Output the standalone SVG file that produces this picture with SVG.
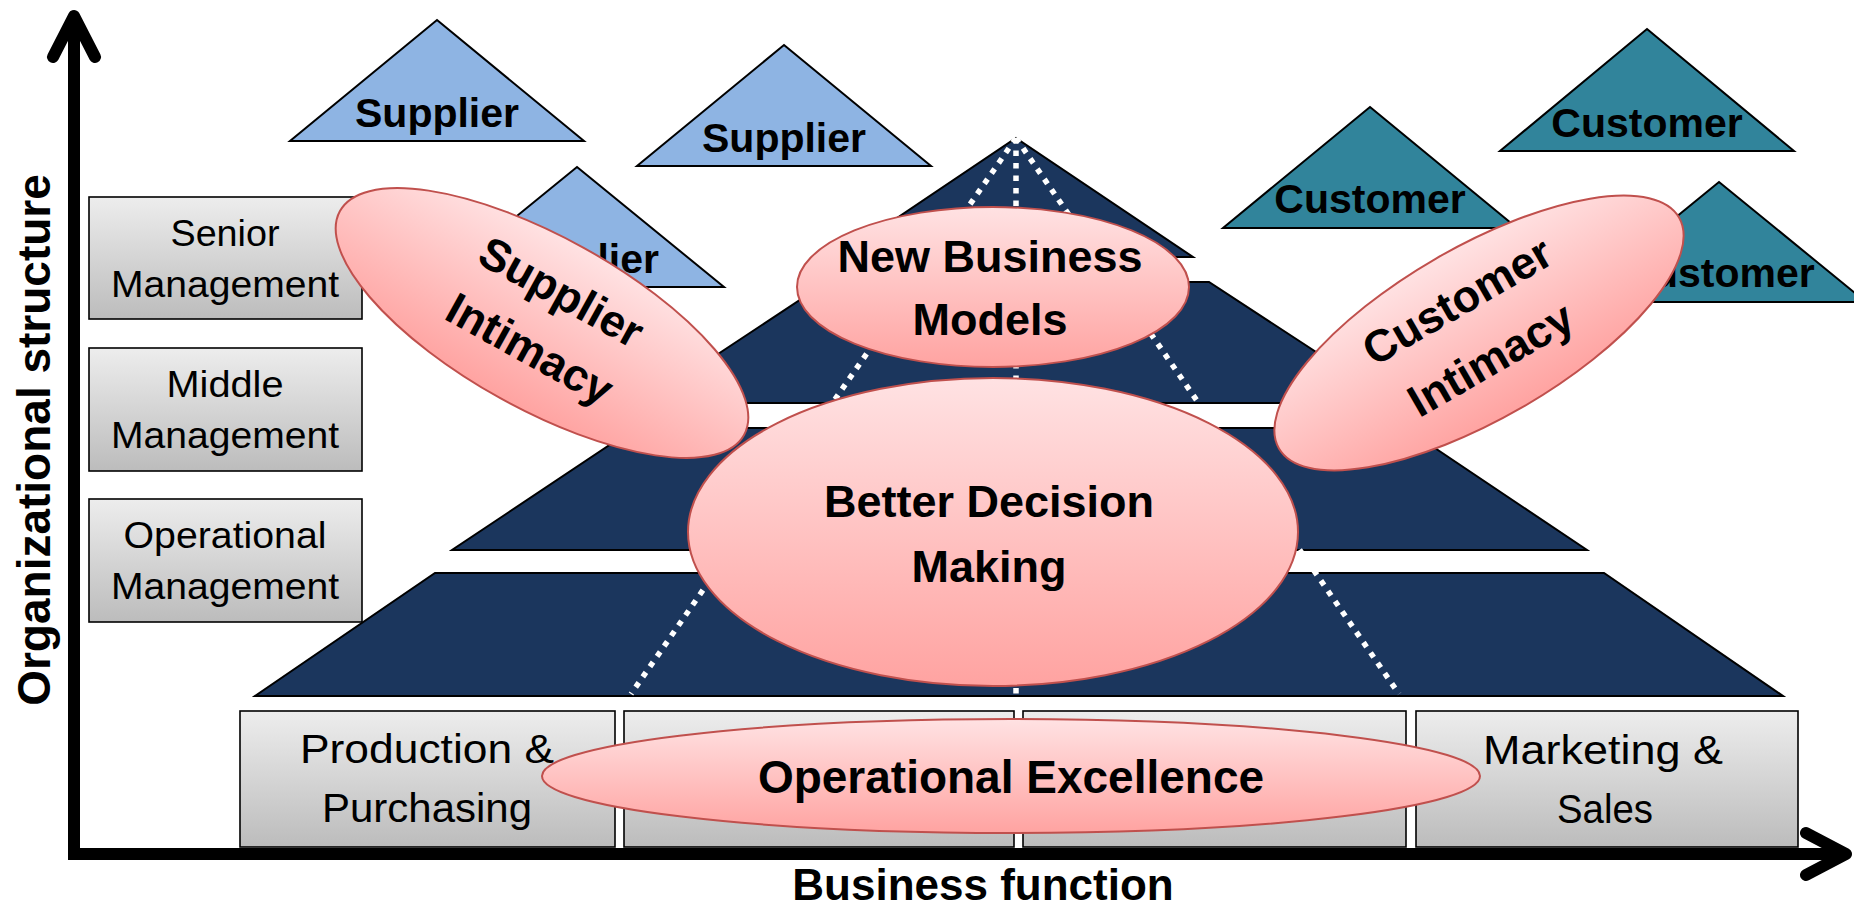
<svg xmlns="http://www.w3.org/2000/svg" width="1854" height="909" viewBox="0 0 1854 909">
<defs>
<linearGradient id="gray" x1="0" y1="0" x2="0" y2="1"><stop offset="0" stop-color="#ededed"/><stop offset="1" stop-color="#bcbcbc"/></linearGradient>
<linearGradient id="pink" x1="0" y1="0" x2="0" y2="1"><stop offset="0" stop-color="#ffe2e3"/><stop offset="1" stop-color="#ffa3a1"/></linearGradient>
<style>
.box{fill:url(#gray);stroke:#000;stroke-width:1.6}
.reg{font-family:"Liberation Sans",Arial,sans-serif;fill:#000;text-anchor:middle}
.bold{font-family:"Liberation Sans",Arial,sans-serif;font-weight:bold;fill:#000;text-anchor:middle}
.sup{fill:#8eb4e3;stroke:#000;stroke-width:2}
.cus{fill:#31849b;stroke:#000;stroke-width:2}
.tier{fill:#1b365d;stroke:#000;stroke-width:2}
.dots{stroke:#fff;stroke-width:5.5;stroke-dasharray:5.5 7;fill:none}
.ell{fill:url(#pink);stroke:#c0504d;stroke-width:2}
.axis{fill:none;stroke:#000;stroke-width:12}
</style>
</defs>

<g id="supplier-triangles">
<g id="supplier1"><polygon class="sup" points="437,20 584,141 290,141"/><text class="bold" x="437" y="127" font-size="41">Supplier</text></g>
<g id="supplier2"><polygon class="sup" points="784,45 931,166 637,166"/><text class="bold" x="784" y="152" font-size="41">Supplier</text></g>
<g id="supplier3"><polygon class="sup" points="577,167 724,287 430,287"/><text class="bold" x="577" y="273" font-size="41">Supplier</text></g>
</g>

<g id="customer-triangles">
<g id="customer1"><polygon class="cus" points="1370,107 1517,228 1223,228"/><text class="bold" x="1370" y="213" font-size="41">Customer</text></g>
<g id="customer2"><polygon class="cus" points="1647,29 1794,151 1500,151"/><text class="bold" x="1647" y="137" font-size="41">Customer</text></g>
<g id="customer3"><polygon class="cus" points="1719,182 1866,302 1572,302"/><text class="bold" x="1719" y="287" font-size="41">Customer</text></g>
</g>

<g id="left-levels">
<g id="senior"><rect class="box" x="89" y="197" width="273" height="122"/><text class="reg" font-size="36" x="225" y="246" textLength="109" lengthAdjust="spacingAndGlyphs">Senior</text><text class="reg" font-size="36" x="225" y="297" textLength="228" lengthAdjust="spacingAndGlyphs">Management</text></g>
<g id="middle"><rect class="box" x="89" y="348" width="273" height="123"/><text class="reg" font-size="36" x="225" y="397" textLength="117" lengthAdjust="spacingAndGlyphs">Middle</text><text class="reg" font-size="36" x="225" y="448" textLength="228" lengthAdjust="spacingAndGlyphs">Management</text></g>
<g id="operational"><rect class="box" x="89" y="499" width="273" height="123"/><text class="reg" font-size="36" x="225" y="548" textLength="203" lengthAdjust="spacingAndGlyphs">Operational</text><text class="reg" font-size="36" x="225" y="599" textLength="228" lengthAdjust="spacingAndGlyphs">Management</text></g>
</g>

<g id="pyramid">
<polygon class="tier" points="1016,138 1193,257 839,257"/>
<polygon class="tier" points="827,282 1209,282 1394,403 644,403"/>
<polygon class="tier" points="635,428 1405,428 1587,550 452,550"/>
<polygon class="tier" points="435,573 1604,573 1783,696 255,696"/>
</g>

<g id="connectors">
<line class="dots" x1="1016" y1="138" x2="631" y2="694"/>
<line class="dots" x1="1016" y1="138" x2="1016" y2="694"/>
<line class="dots" x1="1016" y1="138" x2="1399" y2="694"/>
</g>

<g id="functions">
<g id="production"><rect class="box" x="240" y="711" width="375" height="136"/><text class="reg" font-size="41" x="427" y="763" textLength="254" lengthAdjust="spacingAndGlyphs">Production &amp;</text><text class="reg" font-size="41" x="427" y="822" textLength="210" lengthAdjust="spacingAndGlyphs">Purchasing</text></g>
<g id="function2"><rect class="box" x="624" y="711" width="390" height="136"/></g>
<g id="function3"><rect class="box" x="1023" y="711" width="383" height="136"/></g>
<g id="marketing"><rect class="box" x="1416" y="711" width="382" height="136"/><text class="reg" font-size="41" x="1603" y="764" textLength="240" lengthAdjust="spacingAndGlyphs">Marketing &amp;</text><text class="reg" font-size="41" x="1605" y="823" textLength="96" lengthAdjust="spacingAndGlyphs">Sales</text></g>
</g>

<g id="new-business-models"><ellipse class="ell" cx="993" cy="287" rx="196" ry="80"/><text class="bold" font-size="45" x="990" y="272">New Business</text><text class="bold" font-size="45" x="990" y="335">Models</text></g>

<g id="better-decision-making"><ellipse class="ell" cx="993" cy="532" rx="305" ry="154"/><text class="bold" font-size="45" x="989" y="517">Better Decision</text><text class="bold" font-size="45" x="989" y="582">Making</text></g>

<g id="supplier-intimacy" transform="translate(542,323) rotate(29)"><ellipse class="ell" cx="0" cy="0" rx="231" ry="86"/><text class="bold" font-size="45" x="2" y="-21">Supplier</text><text class="bold" font-size="45" x="2" y="44">Intimacy</text></g>

<g id="customer-intimacy" transform="translate(1479,333) rotate(-30)"><ellipse class="ell" cx="0" cy="0" rx="231" ry="86"/><text class="bold" font-size="45" x="-3" y="-23">Customer</text><text class="bold" font-size="45" x="-3" y="44">Intimacy</text></g>

<g id="operational-excellence"><ellipse class="ell" cx="1011" cy="776" rx="469" ry="57"/><text class="bold" font-size="46" x="1011" y="793">Operational Excellence</text></g>

<g id="axes">
<path class="axis" stroke-linejoin="miter" d="M74,18 V854 H1844"/>
<polyline class="axis" stroke-linecap="round" stroke-linejoin="round" points="53,57 74,16 95,57"/>
<polyline class="axis" stroke-linecap="round" stroke-linejoin="round" points="1806,833 1846,854 1806,875"/>
<text class="bold" font-size="46" transform="translate(50,440) rotate(-90)" x="0" y="0">Organizational structure</text>
<text class="bold" font-size="44" x="983" y="900">Business function</text>
</g>
</svg>
